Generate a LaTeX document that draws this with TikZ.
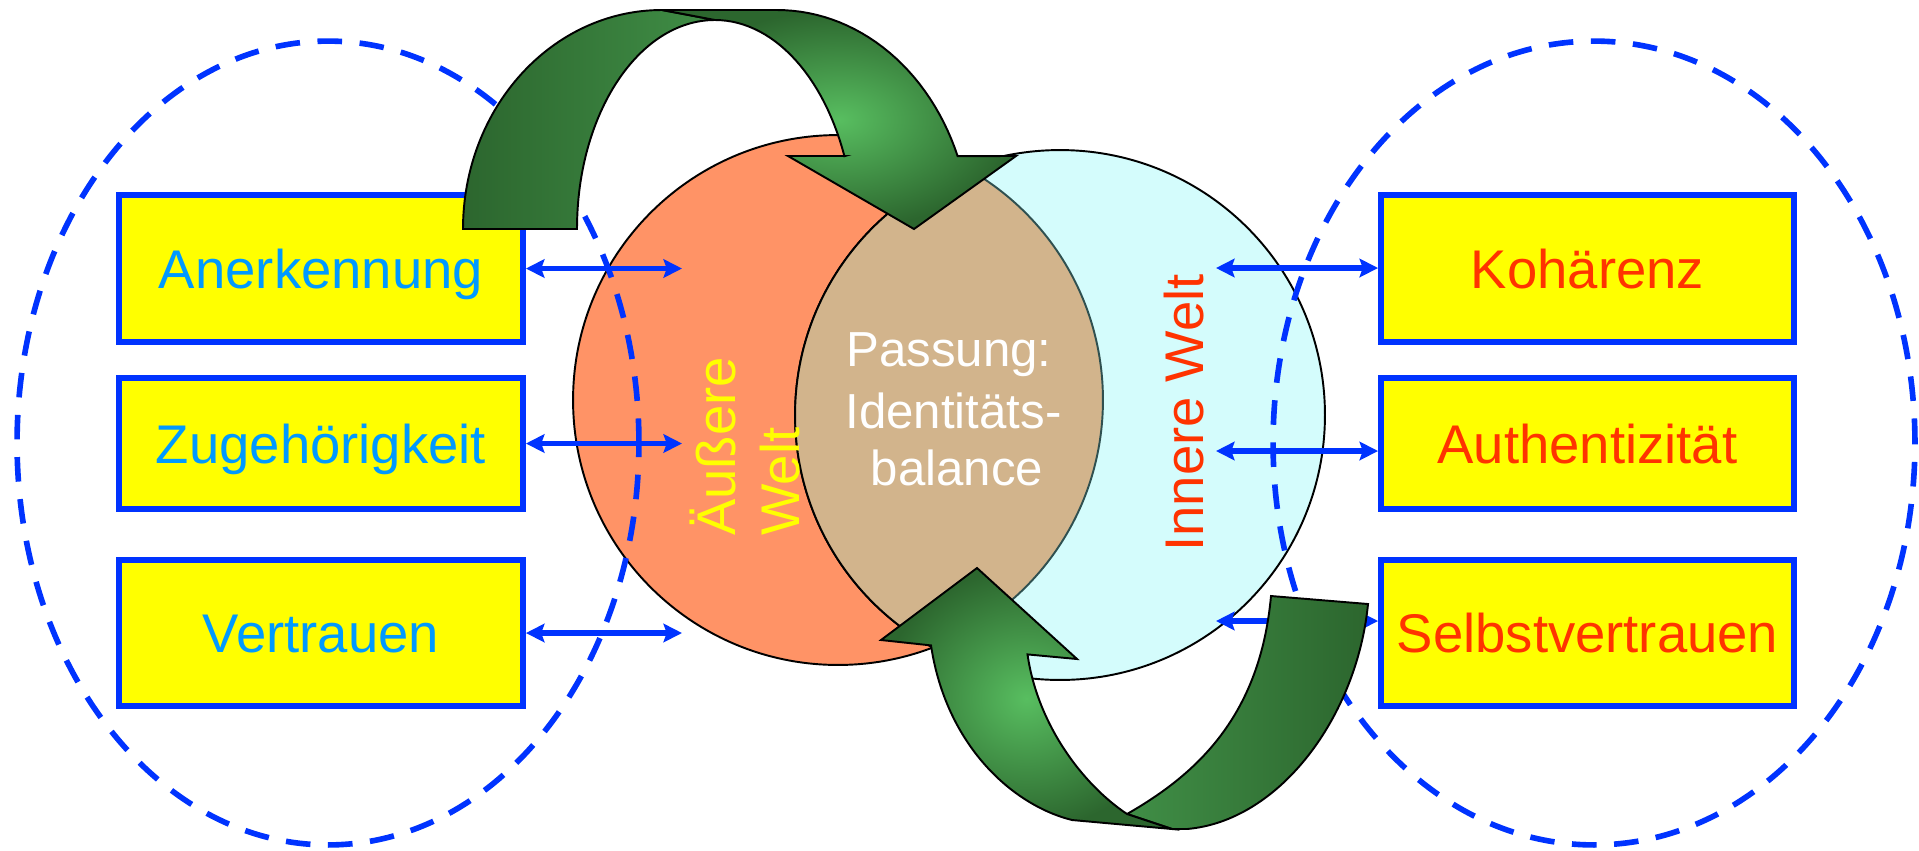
\documentclass[tikz,border=0pt]{standalone}
\usepackage{fontspec}
\setmainfont{Liberation Sans}
\usetikzlibrary{arrows.meta}
\definecolor{boxblue}{HTML}{0033FF}
\definecolor{lblue}{HTML}{0099FF}
\definecolor{redtxt}{HTML}{FF3300}
\definecolor{yelw}{HTML}{FFFF00}
\definecolor{orangew}{RGB}{255,147,102}
\definecolor{cyanw}{RGB}{212,252,252}
\definecolor{tanw}{HTML}{D2B48C}
\definecolor{lensline}{HTML}{2F5050}
\definecolor{gdark}{RGB}{44,102,46}
\definecolor{gmid}{RGB}{64,142,70}
\definecolor{glight}{RGB}{88,190,96}
\begin{document}
\begin{tikzpicture}[x=0.02cm, y=-0.02cm,
  box/.style={draw=boxblue, fill=yelw, line width=3.4pt, inner sep=0pt,
    text height=22.2pt, text depth=0pt, font=\fontsize{31}{37}\selectfont},
  lbox/.style={box, text=lblue},
  rbox/.style={box, text=redtxt},
  dashring/.style={draw=boxblue, line width=3.2pt, dash pattern=on 14pt off 10pt},
  link/.style={draw=boxblue, line width=3.3pt,
    {Stealth[length=10.5pt,width=10.5pt,inset=1.8pt]}-{Stealth[length=10.5pt,width=10.5pt,inset=1.8pt]}},
  ribbon/.style={draw=black, line width=1.1pt},
  rim/.style={line width=1.1pt},
  midtext/.style={inner sep=0pt, anchor=base, text=white, font=\fontsize{28}{34}\selectfont},
  sidetext/.style={inner sep=0pt, rotate=90, anchor=base west, font=\fontsize{31}{37}\selectfont}]
\useasboundingbox (0,0) rectangle (1919,850);

% --- central circles ---
\fill[orangew] (838,400) circle[radius=5.3cm];
\draw[rim, black] (838,400) circle[radius=5.3cm];
\filldraw[rim, fill=cyanw, draw=black] (1060,415) circle[radius=5.3cm];
\begin{scope}
  \clip (838,400) circle[radius=5.3cm];
  \fill[tanw] (1060,415) circle[radius=5.3cm];
  \draw[rim, black] (1060,415) circle[radius=5.3cm];
\end{scope}
\begin{scope}
  \clip (1060,415) circle[radius=5.3cm];
  \draw[rim, lensline] (838,400) circle[radius=5.3cm];
\end{scope}

% --- dashed rings ---
\draw[dashring] (328,443) ellipse[x radius=6.22cm, y radius=8.04cm];
\draw[dashring] (1594,443) ellipse[x radius=6.42cm, y radius=8.04cm];

% --- boxes ---
\node[lbox, minimum width=8.08cm, minimum height=2.94cm] (a1) at (321,268.5) {Anerkennung};
\node[lbox, minimum width=8.08cm, minimum height=2.62cm] (a2) at (321,443.5) {Zugehörigkeit};
\node[lbox, minimum width=8.08cm, minimum height=2.92cm] (a3) at (321,633) {Vertrauen};
\node[rbox, minimum width=8.26cm, minimum height=2.94cm] (b1) at (1587.5,268.5) {Kohärenz};
\node[rbox, minimum width=8.26cm, minimum height=2.62cm] (b2) at (1587.5,443.5) {Authentizität};
\node[rbox, minimum width=8.26cm, minimum height=2.92cm] (b3) at (1587.5,633) {Selbstvertrauen};

% --- connectors ---
\coordinate (la1) at (682,268.5);
\coordinate (la2) at (682,443.5);
\coordinate (la3) at (682,633);
\coordinate (ra1) at (1216,268);
\coordinate (ra2) at (1216,451);
\coordinate (ra3) at (1216,621);
\draw[link] (a1.east) -- (la1);
\draw[link] (a2.east) -- (la2);
\draw[link] (a3.east) -- (la3);
\draw[link] (ra1) -- (ra1 -| b1.west);
\draw[link] (ra2) -- (ra2 -| b2.west);
\draw[link] (ra3) -- (ra3 -| b3.west);

% --- texts in circles ---
\node[midtext] (p1) at (949,366.5) {Passung:};
\node[midtext] (p2) at (953.5,428) {Identitäts-};
\node[midtext] (p3) at (957,485) {balance};
\node[sidetext, text=yelw] (aw1) at (735,536) {Äußere};
\node[sidetext, text=yelw] (aw2) at (799,536) {Welt};
\node[sidetext, text=redtxt] (iw) at (1203,552) {Innere Welt};

% --- top curved arrow ---
\path[ribbon, left color=gdark, right color=gmid]
  (463,229) -- (577,229) .. controls (577,113.6) and (638.8,20) .. (715,20)
  -- (662,10) .. controls (552,10) and (463,108) .. (463,229) -- cycle;
\path[ribbon, shading=radial, inner color=glight, outer color=gdark]
  (662,10) -- (777,10)
  -- plot[domain=90:21.4, samples=30] ({777+194*cos(\x)},{240-230*sin(\x)})
  -- (1016,156) -- (914,229) -- (788,156) -- (845,156)
  -- plot[domain=22.4:90, samples=30] ({715+140*cos(\x)},{240-220*sin(\x)})
  -- cycle;

% --- bottom curved arrow ---
\path[ribbon, left color=gmid, right color=gdark]
  (1271,596) -- (1368,604) .. controls (1357,716) and (1280,821) .. (1187,829)
  -- (1172,829) -- (1127,814) .. controls (1197,774) and (1260,716) .. (1271,596) -- cycle;
\path[ribbon, shading=radial, inner color=glight, outer color=gdark]
  (1072,820) -- (1172,829) -- (1127,814)
  .. controls (1082,784) and (1037.5,724) .. (1027.5,654.4)
  -- (1077,659) -- (977,568) -- (881,640) -- (931,645.4)
  .. controls (946,745) and (1012,805) .. (1072,820) -- cycle;
\end{tikzpicture}
\end{document}
